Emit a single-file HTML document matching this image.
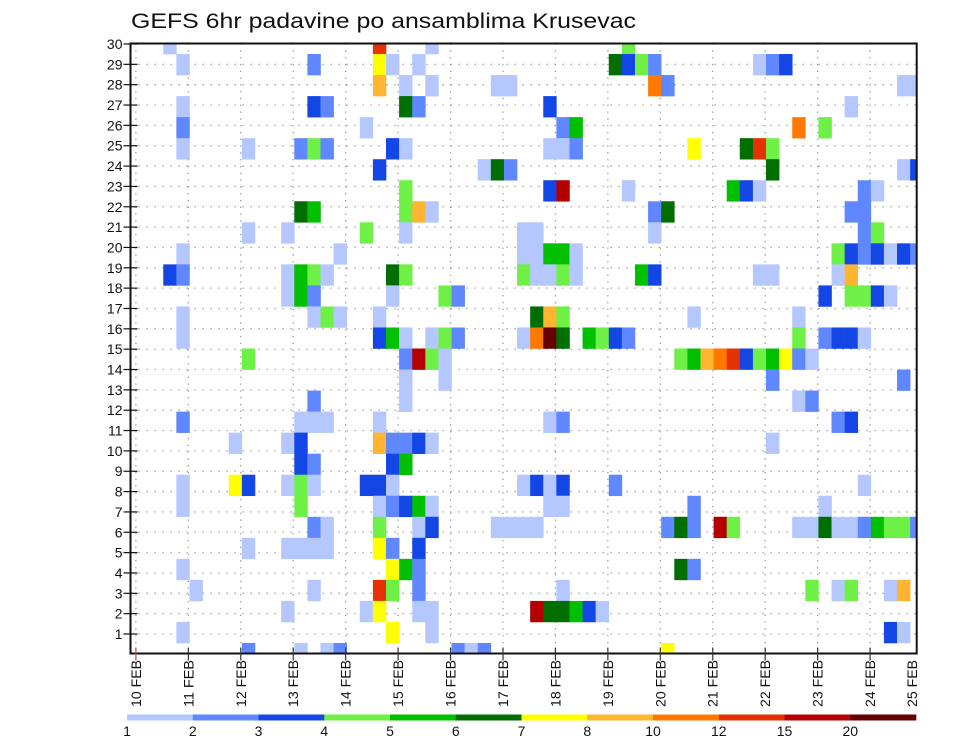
<!DOCTYPE html>
<html><head><meta charset="utf-8"><style>
html,body{margin:0;padding:0;background:#fff;}
svg{display:block;font-family:"Liberation Sans",sans-serif;}
</style></head><body>
<svg id="chart" width="960" height="742" viewBox="0 0 960 742" xmlns="http://www.w3.org/2000/svg">
<text x="131" y="28" font-size="21" textLength="505" lengthAdjust="spacingAndGlyphs" fill="#111">GEFS 6hr padavine po ansamblima Krusevac</text>
<g id="grid"></g><g id="cells"></g><g id="axes"></g><g id="legend"></g>
</svg>
<script>
// ---- data ----
const members = [30,29,28,27,26,25,24,23,22,21,20,19,18,17,16,15,14,13,12,11,10,9,8,7,6,5,4,3,2,1];
// row cells (top to bottom): "timeIndex+levelCode" per non-empty cell
const rowCells = [
"3a 19j 23a 38d",
"4a 14b 19g 20a 22a 37f 38c 39d 40b 48a 49b 50c",
"19h 21a 23a 28a 29a 40i 41b 59a 60a",
"4a 14c 15b 21f 22b 32c 55a",
"4b 18a 33b 34e 51i 53d",
"4a 9a 13b 14d 15b 20c 21a 32a 33a 34b 43g 47f 48j 49d",
"19c 27a 28f 29b 49f 59a 60c",
"21d 32c 33k 38a 46e 47c 48a 56b 57a",
"13f 14e 21d 22h 23a 40b 41f 55b 56b",
"9a 12a 18d 21a 30a 31a 40a 56b 57d",
"4a 16a 30a 31a 32e 33e 34a 54d 55c 56b 57c 58a 59c 60b",
"3c 4b 12a 13e 14d 15a 20f 21d 30d 31a 32a 33d 34a 39e 40c 48a 49a 54a 55h",
"12a 13e 14b 20a 24d 25b 53c 55d 56d 57c 58a",
"4a 14a 15d 16a 19a 31f 32h 33d 43a 51a",
"4a 19c 20e 21a 23a 24d 25b 30a 31i 32l 33f 35e 36d 37c 38b 51d 53b 54c 55c 56a",
"9d 21b 22k 23d 24a 42d 43e 44h 45i 46j 47c 48d 49e 50g 51b 52a",
"21a 24a 49b 59b",
"14b 21a 51a 52b",
"4b 13a 14a 15a 19a 32a 33b 54b 55c",
"8a 12a 13c 19h 20b 21b 22c 23a 49a",
"13c 14b 20c 21e",
"4a 8g 9c 12a 13d 14a 18c 19c 20a 30a 31c 32a 33c 37b 56a",
"4a 13d 19a 20b 21c 22e 23a 32a 33a 43b 53a",
"14b 15a 19d 22a 23c 28a 29a 30a 31a 41b 42f 43b 45k 46d 51a 52a 53f 54a 55a 56b 57e 58d 59d 60b",
"9a 12a 13a 14a 15a 19g 20b 22c",
"4a 20g 21e 22b 42f 43b",
"5a 14a 19j 20d 22b 33a 52d 54a 55d 58a 59h",
"12a 18a 19g 22a 23a 31k 32f 33f 34e 35c 36a",
"4a 20g 23a 58c 59a",
"9b 13a 15a 16b 25b 26a 27b 41g"
];
const dateLabels = ["10 FEB","11 FEB","12 FEB","13 FEB","14 FEB","15 FEB","16 FEB","17 FEB","18 FEB","19 FEB","20 FEB","21 FEB","22 FEB","23 FEB","24 FEB","25 FEB"];
const yTickLabels = [1,2,3,4,5,6,7,8,9,10,11,12,13,14,15,16,17,18,19,20,21,22,23,24,25,26,27,28,29,30];
const levelCodes = ["a","b","c","d","e","f","g","h","i","j","k","l"];
const levelLabels = ["1","2","3","4","5","6","7","8","10","12","15","20"];
const levelColors = ["#b4c8ff","#5f87ff","#1446e6","#6ef046","#00c000","#006e00","#ffff00","#ffb432","#ff7800","#e63200","#b40000","#640000"];

// ---- scales ----
const NS="http://www.w3.org/2000/svg";
const L=130.5,R=916.7,T=43.5,B=653.5;
const nT=61, cw=(R-L)/(nT-1), ch=(B-T)/(members.length-1);
function xCell(i){return L+cw*i;}
function yCell(m){return T+(30-m)*ch;}
function xDay(d){return 135.9+52.44*d;}
function yTick(v){return 634-(v-1)*20.345;}
function mk(tag,attrs,parent){const e=document.createElementNS(NS,tag);for(const k in attrs)e.setAttribute(k,attrs[k]);parent.appendChild(e);return e;}
const svg=document.getElementById('chart');
const grid=document.getElementById('grid'),cellsG=document.getElementById('cells'),axes=document.getElementById('axes'),leg=document.getElementById('legend');
mk('clipPath',{id:'pc'},svg);
mk('rect',{x:L,y:T,width:R-L,height:B-T},svg.lastChild);
cellsG.setAttribute('clip-path','url(#pc)');

// grid
yTickLabels.forEach(v=>{
  const ln=mk('line',{x1:L,x2:R,y1:yTick(v),y2:yTick(v),stroke:'#999','stroke-width':1.3,'stroke-dasharray':'1.3,6.7'},grid);
  
  
});
dateLabels.forEach((d,k)=>{
  const x=xDay(k); if(x>R) return;
  const ln=mk('line',{x1:x,x2:x,y1:T,y2:B,stroke:'#999','stroke-width':1.3,'stroke-dasharray':'1.3,5.5'},grid);
  
  
});

// cells
rowCells.forEach((row,r)=>{
  const m=members[r];
  row.split(' ').filter(s=>s).forEach(tok=>{
    const i=parseInt(tok,10), code=tok.replace(/[0-9]/g,'');
    const c=levelColors[levelCodes.indexOf(code)];
    const rc=mk('rect',{x:xCell(i)-cw/2,y:yCell(m)-ch/2,width:cw+0.3,height:ch+0.3,fill:c},cellsG);
    
    
  });
});

// axes frame
const fr=mk('rect',{x:L,y:T,width:R-L,height:B-T,fill:'none',stroke:'#111','stroke-width':2},axes);


yTickLabels.forEach(v=>{
  const y=yTick(v);
  mk('line',{x1:L-7,x2:L+7,y1:y,y2:y,stroke:'#111','stroke-width':1.2},axes);
  const t=mk('text',{x:L-8,y:y+5,'font-size':14,'text-anchor':'end',fill:'#111'},axes);
  t.textContent=v;
  
  
});
dateLabels.forEach((d,k)=>{
  let x=xDay(k); const tx=Math.min(x,912);
  if(x<=R) mk('line',{x1:x,x2:x,y1:B-6,y2:B+7,stroke:k===0?'#c44':'#333','stroke-width':1.2},axes);
  const t=mk('text',{x:0,y:0,'font-size':14,fill:'#111',transform:'translate('+(tx+5)+',707) rotate(-90)',textLength:47,lengthAdjust:'spacingAndGlyphs'},axes);
  t.textContent=d;
  
  
});

// legend
const LX0=127,LX1=916,lw=(LX1-LX0)/levelColors.length;
levelColors.forEach((c,k)=>{
  const r=mk('rect',{x:LX0+lw*k,y:714.5,width:lw+0.3,height:6,fill:c},leg);
  
  
  const t=mk('text',{x:LX0+lw*k,y:736,'font-size':14,'text-anchor':'middle',fill:'#111'},leg);
  t.textContent=levelLabels[k];
  
  
});
</script>
</body></html>
